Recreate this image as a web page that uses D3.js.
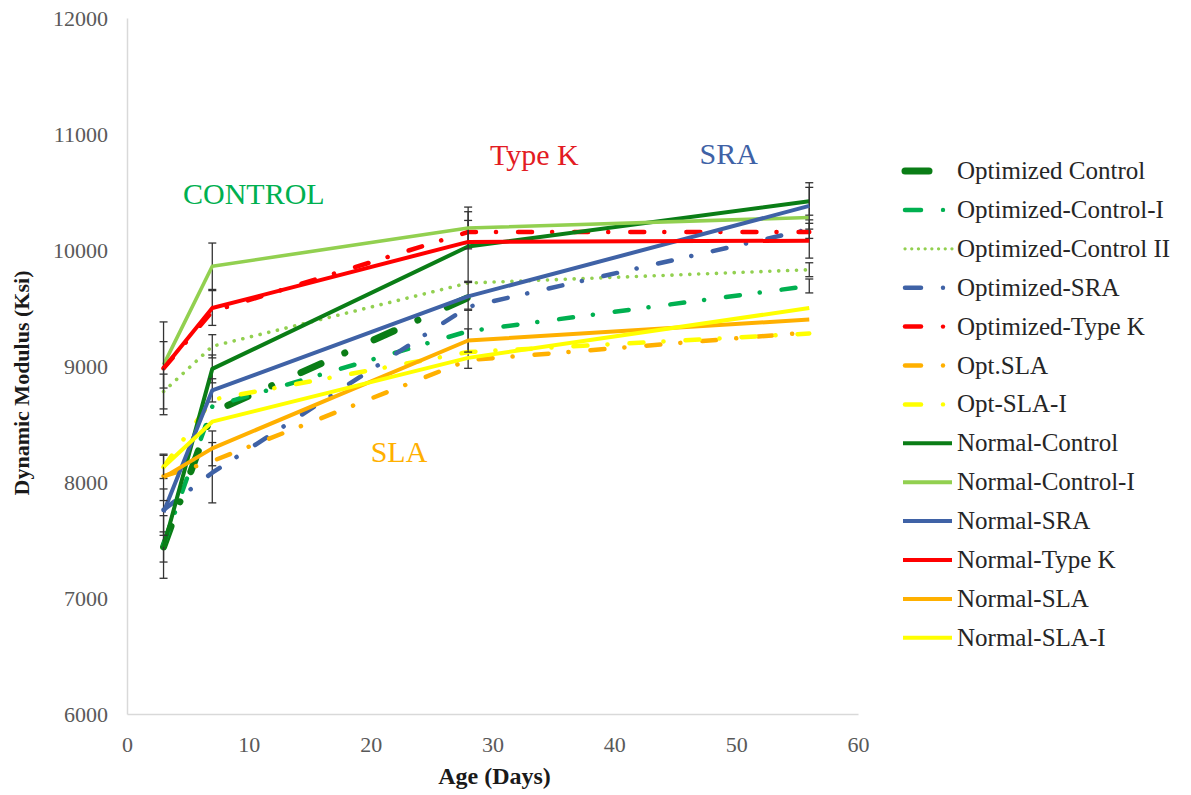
<!DOCTYPE html>
<html>
<head>
<meta charset="utf-8">
<script src="https://cdn.jsdelivr.net/npm/d3@7"></script>
<style>
  body { margin: 0; background: #fff; }
  svg { display: block; }
  text { font-family: "Liberation Serif", "Times New Roman", serif; }
</style>
</head>
<body>
<svg id="chart" width="1191" height="795"></svg>
<script>
// Test ages (days) and axis ticks
const ages = [3, 7, 28, 56];
const xTicks = [0, 10, 20, 30, 40, 50, 60];
const yTicks = [6000, 7000, 8000, 9000, 10000, 11000, 12000];

// Dynamic modulus (Ksi) per mix
const optControl   = [7440, 8600, 9590, null];
const optControlI  = [7460, 8650, 9300, 9690];
const optControlII = [8780, 9170, 9715, 9830];
const optSRA       = [7760, 8080, 9510, 10180];
const optTypeK     = [8980, 9470, 10155, 10155];
const optSLA       = [8050, 8180, 9050, 9290];
const optSLAI      = [8130, 8710, 9120, 9280];
const normControl  = [7440, 8975, 10030, 10420];
const normControlI = [9010, 9860, 10190, 10280];
const normSRA      = [7740, 8790, 9600, 10380];
const normTypeK    = [8980, 9500, 10070, 10080];
const normSLA      = [8040, 8290, 9220, 9400];
const normSLAI     = [8130, 8520, 9070, 9500];

// Standard deviations (Ksi) shown as error bars
const optControlErr   = [130, null, null, null];
const optControlIErr  = [null, null, 190, 60];
const optControlIIErr = [150, 100, null, 60];
const optSRAErr       = [null, 260, null, 80];
const optTypeKErr     = [null, null, 100, null];
const optSLAErr       = [null, null, 70, null];
const optSLAIErr      = [100, null, null, null];
const normControlErr  = [270, 120, 300, 120];
const normControlIErr = [200, 200, 180, null];
const normSRAErr      = [200, 100, 120, 200];
const normTypeKErr    = [400, 150, null, 150];
const normSLAErr      = [200, 150, 100, null];
const normSLAIErr     = [null, null, null, null];

const seriesNames = [
  "Optimized Control", "Optimized-Control-I", "Optimized-Control II",
  "Optimized-SRA", "Optimized-Type K", "Opt.SLA", "Opt-SLA-I",
  "Normal-Control", "Normal-Control-I", "Normal-SRA", "Normal-Type K",
  "Normal-SLA", "Normal-SLA-I"
];
const seriesValues = [
  optControl, optControlI, optControlII, optSRA, optTypeK, optSLA, optSLAI,
  normControl, normControlI, normSRA, normTypeK, normSLA, normSLAI
];
const seriesErrors = [
  optControlErr, optControlIErr, optControlIIErr, optSRAErr, optTypeKErr, optSLAErr, optSLAIErr,
  normControlErr, normControlIErr, normSRAErr, normTypeKErr, normSLAErr, normSLAIErr
];

// Line styles per series
const DARK_GREEN = "#0a7d16", GREEN = "#00b050", LIGHT_GREEN = "#92d050",
      BLUE = "#3f62a6", RED = "#ff0000", ORANGE = "#ffb000", YELLOW = "#ffff00";
const styles = [
  { color: DARK_GREEN,  width: 7,   kind: "thick" },
  { color: GREEN,       width: 4.5, kind: "dashdot" },
  { color: LIGHT_GREEN, width: 3.6, kind: "dot" },
  { color: BLUE,        width: 4.5, kind: "dashdot" },
  { color: RED,         width: 4.5, kind: "dashdot" },
  { color: ORANGE,      width: 4.5, kind: "dashdot" },
  { color: YELLOW,      width: 4.5, kind: "dashdot" },
  { color: DARK_GREEN,  width: 4,   kind: "solid" },
  { color: LIGHT_GREEN, width: 3.6, kind: "solid" },
  { color: BLUE,        width: 4,   kind: "solid" },
  { color: RED,         width: 4,   kind: "solid" },
  { color: ORANGE,      width: 4,   kind: "solid" },
  { color: YELLOW,      width: 4,   kind: "solid" }
];
const dashes = {
  thick: "22,26,0.1,32",
  dashdot: "14,20,0.1,22",
  dot: "0.1,8.8",
  solid: null
};

// Group annotations
const annotations = [
  { text: "CONTROL", age: 4.6,  value: 10400, color: GREEN },
  { text: "Type K",  age: 29.8, value: 10730, color: "#e31b23" },
  { text: "SRA",     age: 47.0, value: 10740, color: BLUE },
  { text: "SLA",     age: 20.0, value: 8170,  color: ORANGE }
];

const svg = d3.select("#chart");
const x = d3.scaleLinear().domain([0, 60]).range([127, 858]);
const y = d3.scaleLinear().domain([6000, 12000]).range([714, 18]);

// Axes
const yAxis = svg.append("g").attr("transform", `translate(${x(0)},0)`)
  .call(d3.axisLeft(y).tickValues(yTicks).tickSize(0).tickPadding(19).tickFormat(d3.format("d")));
const xAxis = svg.append("g").attr("transform", `translate(0,${y(6000)})`)
  .call(d3.axisBottom(x).tickValues(xTicks).tickSize(0).tickPadding(22).tickFormat(d3.format("d")));
[yAxis, xAxis].forEach(g => {
  g.select(".domain").attr("stroke", "#d9d9d9").attr("stroke-width", 1.5);
  g.selectAll("text").attr("fill", "#595959").style("font-size", "22px")
    .style("font-family", "'Liberation Serif', 'Times New Roman', serif");
});

// Axis titles
svg.append("text")
  .attr("transform", `translate(29,${(y(6000) + y(12000)) / 2 + 17}) rotate(-90)`)
  .attr("text-anchor", "middle").attr("font-weight", "bold")
  .style("font-size", "22px").attr("fill", "#1a1a1a")
  .text("Dynamic Modulus (Ksi)");
svg.append("text")
  .attr("x", x(30) + 2).attr("y", 784)
  .attr("text-anchor", "middle").attr("font-weight", "bold")
  .style("font-size", "24px").attr("fill", "#1a1a1a")
  .text("Age (Days)");

// Series lines with error bars
const line = d3.line()
  .defined(d => d.v != null)
  .x(d => x(d.age)).y(d => y(d.v));

seriesNames.forEach((name, i) => {
  const pts = ages.map((a, k) => ({ age: a, v: seriesValues[i][k], e: seriesErrors[i][k] }));
  const st = styles[i];
  const g = svg.append("g").attr("class", "series");
  pts.filter(p => p.v != null && p.e != null).forEach(p => {
    const cx = x(p.age), top = y(p.v + p.e), bot = y(p.v - p.e);
    g.append("line").attr("x1", cx).attr("x2", cx).attr("y1", top).attr("y2", bot)
      .attr("stroke", "#333").attr("stroke-width", 1.3);
    [top, bot].forEach(yy => g.append("line")
      .attr("x1", cx - 4).attr("x2", cx + 4).attr("y1", yy).attr("y2", yy)
      .attr("stroke", "#333").attr("stroke-width", 1.3));
  });
  g.append("path").datum(pts)
    .attr("d", line)
    .attr("fill", "none")
    .attr("stroke", st.color)
    .attr("stroke-width", st.width)
    .attr("stroke-linecap", st.kind === "solid" ? "butt" : "round")
    .attr("stroke-linejoin", "round")
    .attr("stroke-dasharray", dashes[st.kind]);
});

// Group labels
annotations.forEach(a => {
  svg.append("text")
    .attr("x", x(a.age)).attr("y", y(a.value))
    .style("font-size", "30px").attr("fill", a.color)
    .text(a.text);
});

// Legend
const legend = svg.append("g").attr("transform", "translate(0,171)");
seriesNames.forEach((name, i) => {
  const st = styles[i];
  const row = legend.append("g").attr("transform", `translate(0,${i * 38.9})`);
  if (st.kind === "thick") {
    row.append("line").attr("x1", 905).attr("x2", 929).attr("y1", 0).attr("y2", 0)
      .attr("stroke", st.color).attr("stroke-width", 7).attr("stroke-linecap", "round");
  } else if (st.kind === "dashdot") {
    row.append("line").attr("x1", 905).attr("x2", 921).attr("y1", 0).attr("y2", 0)
      .attr("stroke", st.color).attr("stroke-width", 4.5).attr("stroke-linecap", "round");
    row.append("circle").attr("cx", 943).attr("cy", 0).attr("r", 2.2).attr("fill", st.color);
  } else if (st.kind === "dot") {
    row.append("line").attr("x1", 905).attr("x2", 952).attr("y1", 0).attr("y2", 0)
      .attr("stroke", st.color).attr("stroke-width", 3.2).attr("stroke-linecap", "round")
      .attr("stroke-dasharray", "0.1,6.6");
  } else {
    row.append("line").attr("x1", 903).attr("x2", 952).attr("y1", 0).attr("y2", 0)
      .attr("stroke", st.color).attr("stroke-width", 4);
  }
  row.append("text").attr("x", 957).attr("y", 8)
    .style("font-size", "25px").attr("fill", "#262626")
    .text(name);
});
</script>
</body>
</html>
